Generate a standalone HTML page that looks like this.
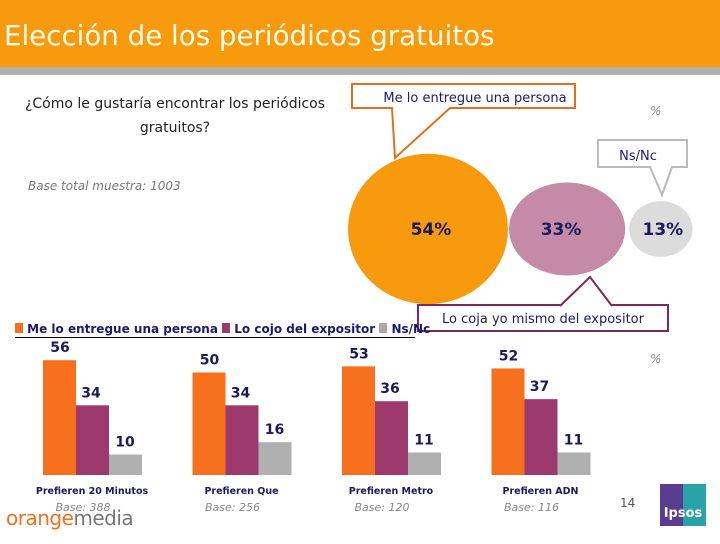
<!DOCTYPE html>
<html><head><meta charset="utf-8"><style>
body{margin:0;width:720px;height:540px;overflow:hidden;background:#fff;font-family:"DejaVu Sans","Liberation Sans",sans-serif;position:relative}
.a{position:absolute}
</style></head><body>
<div class="a" style="left:0;top:0;width:720px;height:67px;background:#f89a0e"></div>
<div class="a" style="left:0;top:67px;width:720px;height:8px;background:#b0b0b0"></div>
<div class="a" style="left:4px;top:19px;font-size:27.7px;color:#fffbe6">Elección de los periódicos gratuitos</div>
<div class="a" style="left:20px;top:92px;width:310px;text-align:center;font-size:14px;line-height:24px;color:#222">¿Cómo le gustaría encontrar los periódicos gratuitos?</div>
<div class="a" style="left:28px;top:179px;font-size:12px;font-style:italic;color:#777">Base total muestra: 1003</div>
<svg class="a" style="left:0;top:0" width="720" height="540">
<g id="bubbles"></g>
<g id="bars"></g>
</svg>
<div class="a" style="left:650px;top:104px;font-size:12px;color:#888;font-style:italic">%</div>
<div class="a" style="left:650px;top:352px;font-size:12px;color:#888;font-style:italic">%</div>
<div class="a" style="left:15px;top:322px;width:400px;height:15px;border-bottom:1px solid #000;font-size:12px;font-weight:bold;color:#1a1a6e;white-space:nowrap">
<span style="display:inline-block;width:8px;height:10px;background:#f7701e"></span> Me lo entregue una persona <span style="display:inline-block;width:8px;height:10px;background:#9c3a6e"></span> Lo cojo del expositor <span style="display:inline-block;width:8px;height:10px;background:#aaa"></span> Ns/Nc</div>
<div class="a" style="left:620px;top:496px;font-size:12px;color:#555">14</div>
<div class="a" style="left:6px;top:506px;font-size:20px;letter-spacing:-0.5px"><span style="color:#f7701e">orange</span><span style="color:#777">media</span></div>
<div class="a" style="left:660px;top:484px;width:46px;height:42px;background:linear-gradient(90deg,#5a3d8e 0 50%,#2aa3a8 50%);color:#fff;font-weight:bold;font-size:13px;text-align:center;line-height:60px">Ipsos</div>
<script>
const NS="http://www.w3.org/2000/svg";
const bubbleLabels=["54%","33%","13%"];
const bubbleValues=[54,33,13];
const groups=["Prefieren 20 Minutos","Prefieren Que","Prefieren Metro","Prefieren ADN"];
const bases=["Base: 388","Base: 256","Base: 120","Base: 116"];
const persona=[56,50,53,52];
const expositor=[34,34,36,37];
const nsnc=[10,16,11,11];
function mk(tag,attrs,parent){const e=document.createElementNS(NS,tag);for(const k in attrs)e.setAttribute(k,attrs[k]);parent.appendChild(e);return e;}
const bg=document.getElementById('bubbles');
const bcol=["#f89a0e","#c48aa8","#dcdcdc"];
const rScale=v=>80*Math.pow(v/54,0.65);
const ryRatio=[0.94,0.8,0.88];
let cx=348;
mk('path',{d:'M352,84 H575 V108 H450 L395,158 L392,108 H352 Z',fill:'#fff',stroke:'#e07020','stroke-width':2},bg);
mk('path',{d:'M598,140 H687 V167 H672 L662,195 L650,167 H598 Z',fill:'#fff',stroke:'#bbb','stroke-width':2},bg);
bubbleValues.forEach((v,i)=>{
 const rx=rScale(v), ry=rx*ryRatio[i];
 const c=cx+rx+(i==2?3:0);
 const e=mk('ellipse',{cx:c,cy:229,rx:rx,ry:ry,fill:bcol[i]},bg);
 
 
 const t=mk('text',{x:c+(i==0?3:(i==2?2:-6)),y:235,'text-anchor':'middle','font-size':17,'font-weight':'bold',fill:'#1a1a5e','font-family':'DejaVu Sans, sans-serif'},bg);
 t.textContent=bubbleLabels[i];
 cx=c+rx+1;
});
mk('path',{d:'M418,305 H668 V331 H418 Z',fill:'#fff',stroke:'#7a2a5e','stroke-width':2},bg);
mk('path',{d:'M560,306 L590,277 L612,306',fill:'#fff',stroke:'#7a2a5e','stroke-width':2},bg);
mk('path',{d:'M563,306 H609',stroke:'#fff','stroke-width':3},bg);
const tt=[['Me lo entregue una persona',475,102,'#1a1a6e'],['Ns/Nc',638,160,'#1a1a6e'],['Lo coja yo mismo del expositor',543,323,'#1a1a6e']];
tt.forEach(a=>{const t=mk('text',{x:a[1],y:a[2],'text-anchor':'middle','font-size':13,fill:a[3],'font-family':'DejaVu Sans, sans-serif'},bg);t.textContent=a[0];});
const g=document.getElementById('bars');
const base=475, k=2.05, bw=33, x0=43, step=149.5;
const series=[persona,expositor,nsnc];
const cols=["#f7701e","#9c3a6e","#b0b0b0"];
groups.forEach((name,gi)=>{
 series.forEach((s,si)=>{
  const h=s[gi]*k, x=x0+gi*step+si*bw;
  const r=mk('rect',{x:x,y:base-h,width:bw,height:h,fill:cols[si]},g);
  
  
  const t=mk('text',{x:x+(si==0?17:si==1?15:16),y:base-h-8,'text-anchor':'middle','font-size':14,'font-weight':'bold',fill:'#1a1a5e','font-family':'DejaVu Sans, sans-serif'},g);
  t.textContent=s[gi];
 });
 const l=mk('text',{x:x0+gi*step+49,y:494,'text-anchor':'middle','font-size':9.5,'font-weight':'bold',fill:'#1a1a5e','font-family':'DejaVu Sans, sans-serif'},g);
 l.textContent=name;
 const b=mk('text',{x:x0+gi*step+40,y:511,'text-anchor':'middle','font-size':11,'font-style':'italic',fill:'#888','font-family':'DejaVu Sans, sans-serif'},g);
 b.textContent=bases[gi];
});
</script>
</body></html>
